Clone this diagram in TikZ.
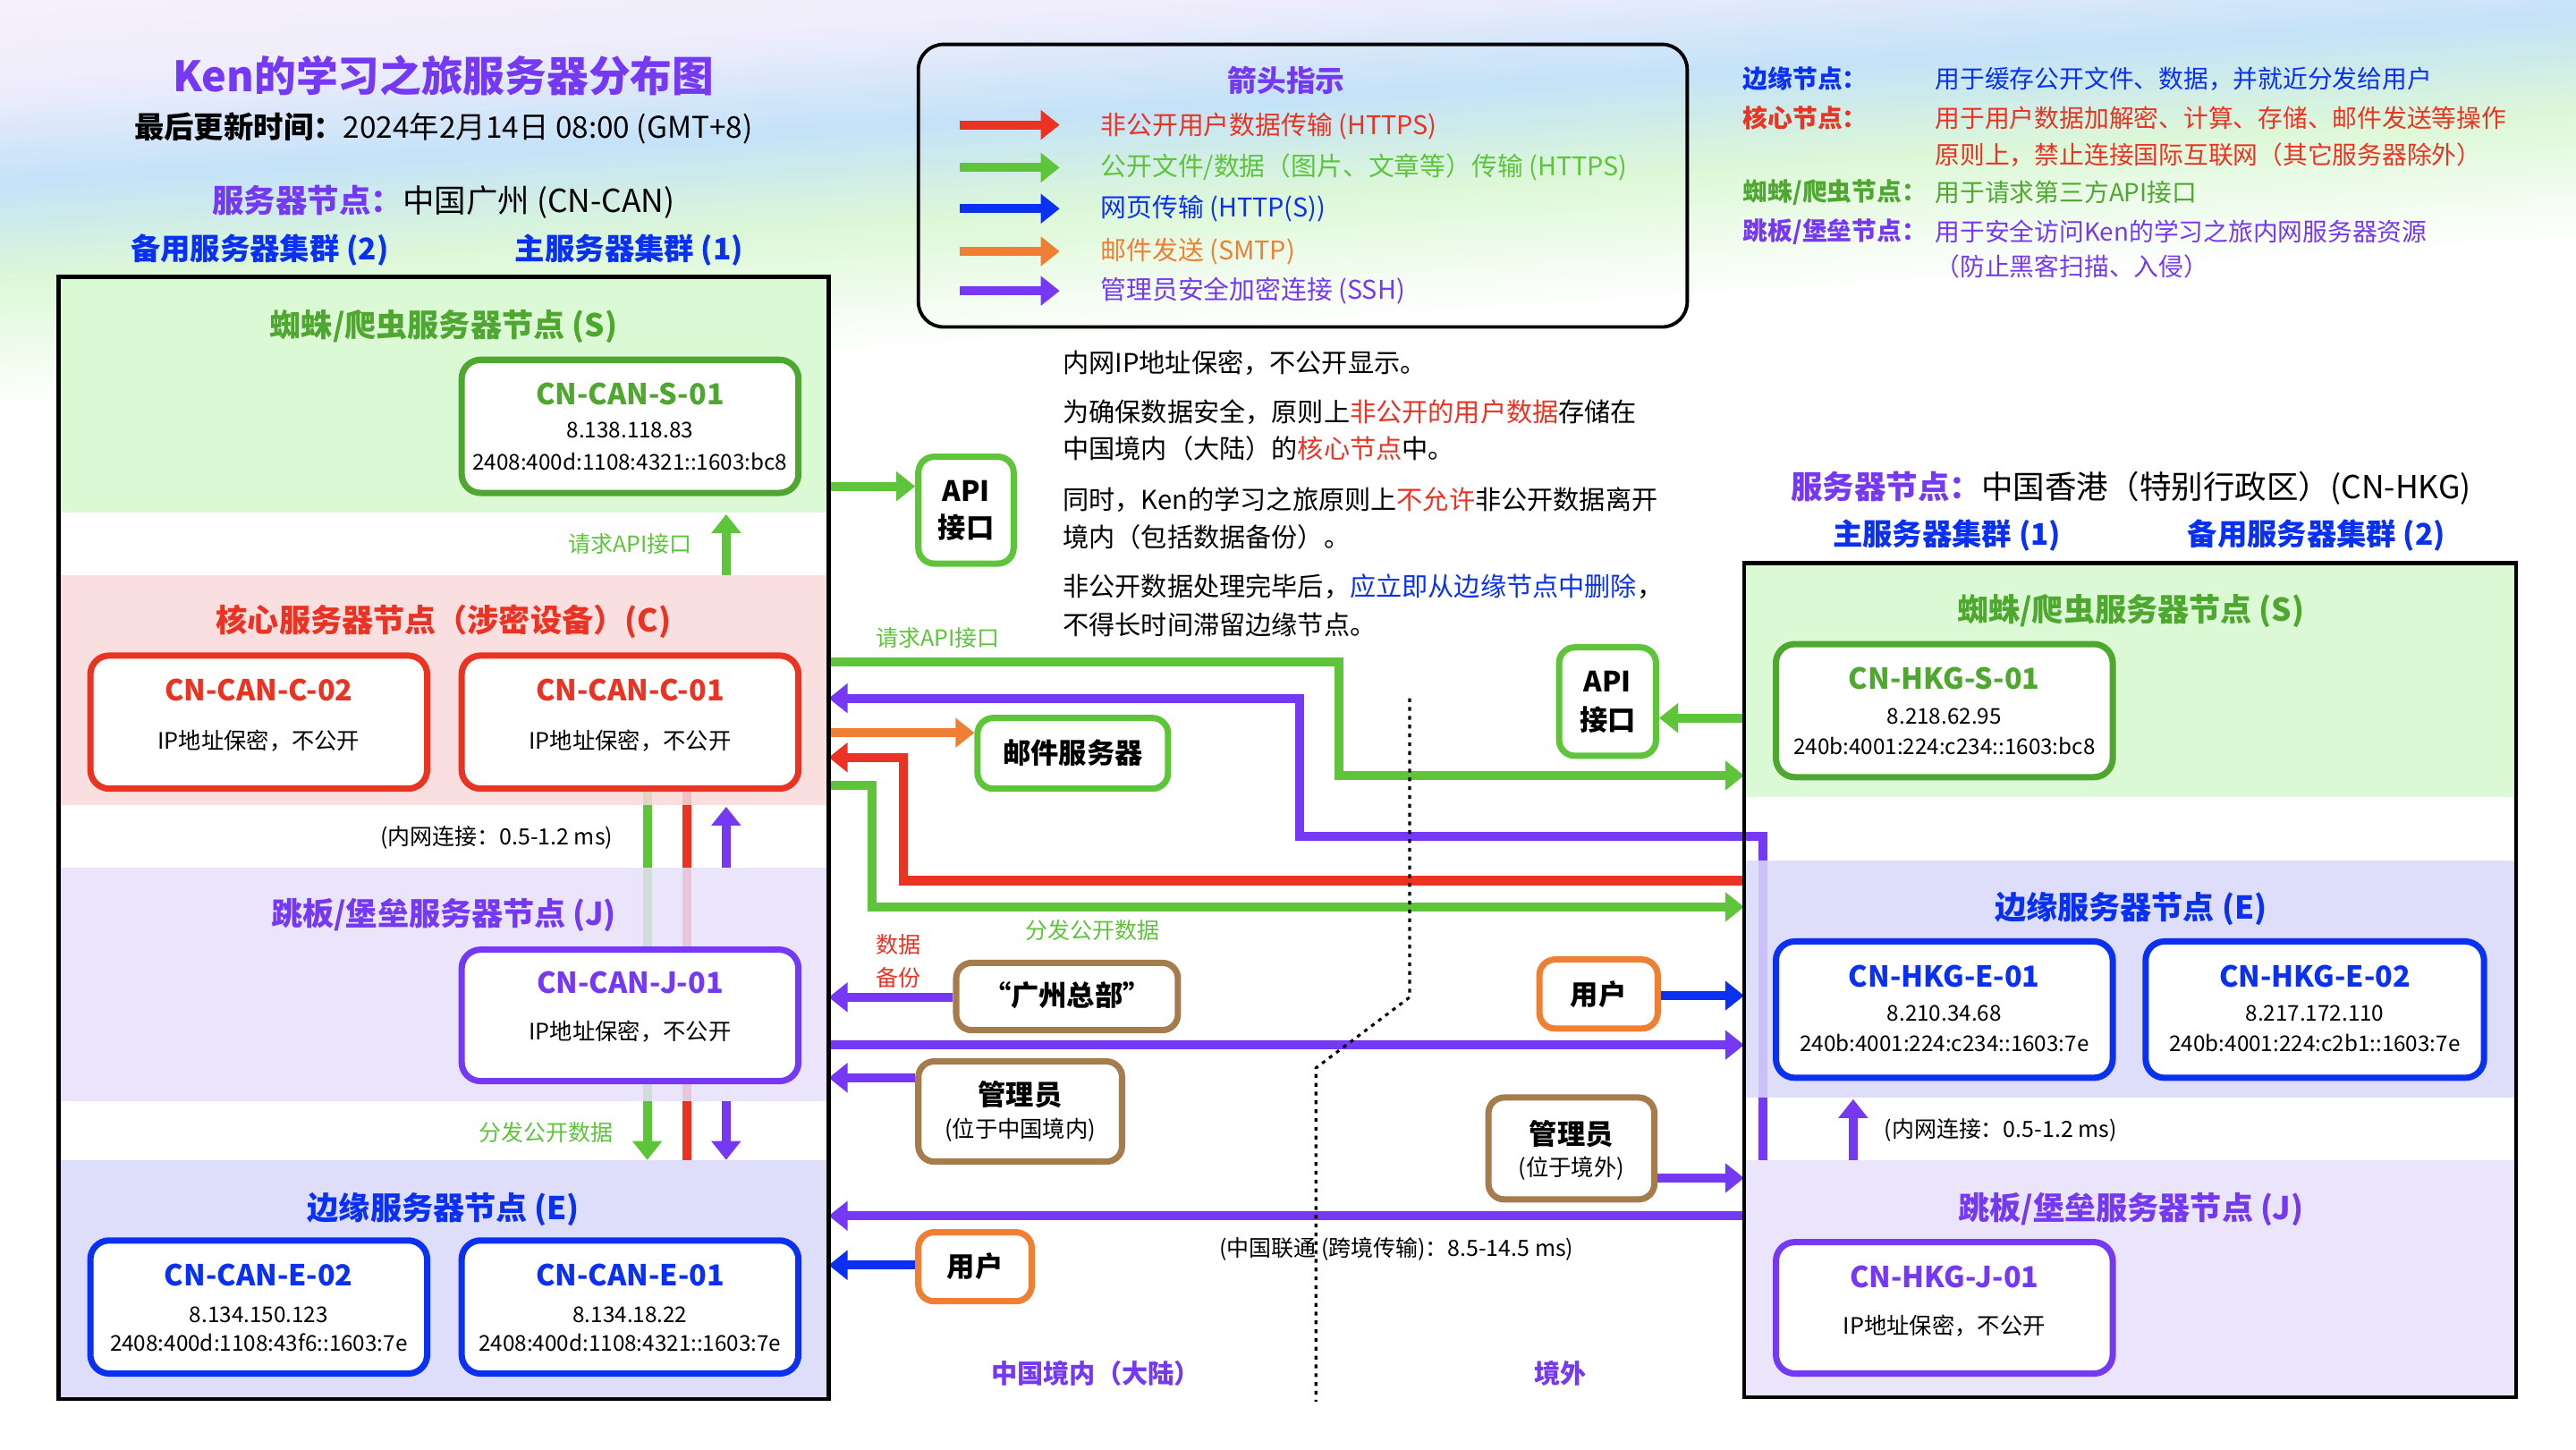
\documentclass[tikz,border=0pt]{standalone}
\usepackage{fontspec}
\setmainfont{Noto Sans CJK SC}
\usetikzlibrary{arrows.meta,fit}
\newcommand\fz[1]{\fontsize{#1}{#1}\selectfont}
\definecolor{pur}{HTML}{7539F4}
\definecolor{grn}{HTML}{5EC43A}
\definecolor{dgrn}{HTML}{4EA72E}
\definecolor{rd}{HTML}{EA3323}
\definecolor{blu}{HTML}{0A31F2}
\definecolor{org}{HTML}{EF8033}
\definecolor{brn}{HTML}{A67C4C}
\definecolor{lavA}{RGB}{244,240,252}
\definecolor{lavB}{RGB}{240,237,252}
\definecolor{bgblue}{RGB}{196,226,248}
\definecolor{bggreen}{RGB}{221,248,215}
\definecolor{bandG}{RGB}{215,248,207}
\definecolor{bandR}{RGB}{248,218,218}
\definecolor{bandJ}{RGB}{231,225,250}
\definecolor{bandE}{RGB}{217,217,251}
\newcommand\bgseg[5]{%
  \foreach \i in {1,...,#3}{%
    \pgfmathsetmacro\ua{#1+(#2-#1)*(\i-1)/#3}%
    \pgfmathsetmacro\ub{#1+(#2-#1)*\i/#3+0.6}%
    \pgfmathtruncatemacro\pp{100-100*(\i-0.5)/#3}%
    \fill[fill=#4!\pp!#5] (0,\ua) -- (1568,\ua-102) -- (1568,\ub-102) -- (0,\ub) -- cycle;
  }}
\tikzset{
  tx/.style={inner sep=0pt, outer sep=0pt, anchor=center},
  tw/.style={inner sep=0pt, outer sep=0pt, anchor=west},
  conn/.style={draw=#1, line width=2.9pt},
  arr/.style={-{Triangle[length=6pt,width=9.1pt]}},
  srv/.style={draw=#1, line width=2pt, rounded corners=6pt, fill=white, inner sep=0pt},
  mbox/.style={draw=#1, line width=2pt, rounded corners=5pt, fill=white, inner sep=0pt},
  band/.style={fill=#1, fill opacity=0.85},
  btitle/.style={tx, font=\bfseries\fz{10pt}, text=#1},
  ntitle/.style={tx, font=\bfseries\fz{9.2pt}, text=#1},
  ip/.style={tx, font=\fz{6.9pt}},
  ipx/.style={tx, font=\fz{7.2pt}},
  small/.style={tx, font=\fz{7.1pt}, text=#1},
  lbl/.style={tx, font=\bfseries\fz{8.9pt}},
}
\begin{document}
\begin{tikzpicture}[x=0.018367cm,y=-0.018367cm]
\useasboundingbox (0,0) rectangle (1568,882);
% background gradient
\fill[white] (0,0) rectangle (1568,882);
\begin{scope}
\clip (0,0) rectangle (1568,882);
\bgseg{0}{50}{5}{lavA}{lavB}
\bgseg{50}{112}{12}{lavB}{bgblue}
\bgseg{112}{172}{12}{bgblue}{bggreen}
\bgseg{172}{250}{16}{bggreen}{white}
\end{scope}

% header texts
\node[tx, font=\bfseries\fz{13.3pt}, text=pur] (title) at (270,46) {Ken的学习之旅服务器分布图};
\node[tx, font=\fz{9.5pt}] (upd) at (270,78) {\textbf{最后更新时间：}2024年2月14日 08:00 (GMT+8)};
\node[tx, font=\fz{10.1pt}] (cnloc) at (270,123) {\textcolor{pur}{\bfseries 服务器节点：}中国广州 (CN-CAN)};
\node[tx, font=\bfseries\fz{9.5pt}, text=blu] (cnbak) at (158,152) {备用服务器集群 (2)};
\node[tx, font=\bfseries\fz{9.5pt}, text=blu] (cnmain) at (383,152) {主服务器集群 (1)};

\node[tx, font=\fz{10.1pt}] (hkloc) at (1297,297) {\textcolor{pur}{\bfseries 服务器节点：}中国香港（特别行政区）(CN-HKG)};
\node[tx, font=\bfseries\fz{9.5pt}, text=blu] (hkmain) at (1185,326) {主服务器集群 (1)};
\node[tx, font=\bfseries\fz{9.5pt}, text=blu] (hkbak) at (1410,326) {备用服务器集群 (2)};

% legend
\node[fit={(559,27)(1027,199)}, inner sep=0pt, draw, line width=1.1pt, rounded corners=8pt] (legend) {};
\node[tx, font=\bfseries\fz{9.3pt}, text=pur] (legt) at (783,49) {箭头指示};
\draw[conn=rd, arr] (584,76) -- (645,76);
\draw[conn=grn, arr] (584,102) -- (645,102);
\draw[conn=blu, arr] (584,127) -- (645,127);
\draw[conn=org, arr] (584,153) -- (645,153);
\draw[conn=pur, arr] (584,177) -- (645,177);
\node[tw, font=\fz{8.2pt}, text=rd] (l1) at (670,77) {非公开用户数据传输 (HTTPS)};
\node[tw, font=\fz{8.2pt}, text=grn] (l2) at (670,102) {公开文件/数据（图片、文章等）传输 (HTTPS)};
\node[tw, font=\fz{8.2pt}, text=blu] (l3) at (670,127) {网页传输 (HTTP(S))};
\node[tw, font=\fz{8.2pt}, text=org] (l4) at (670,153) {邮件发送 (SMTP)};
\node[tw, font=\fz{8.2pt}, text=pur] (l5) at (670,177) {管理员安全加密连接 (SSH)};

% right top description
\node[tw, font=\bfseries\fz{7.9pt}, text=blu] (d1) at (1061,48) {边缘节点：};
\node[tw, font=\fz{7.9pt}, text=blu] (d1t) at (1178,48) {用于缓存公开文件、数据，并就近分发给用户};
\node[tw, font=\bfseries\fz{7.9pt}, text=rd] (d2) at (1061,72) {核心节点：};
\node[tw, font=\fz{7.9pt}, text=rd] (d2t) at (1178,72) {用于用户数据加解密、计算、存储、邮件发送等操作};
\node[tw, font=\fz{7.9pt}, text=rd] (d2u) at (1178,94) {原则上，禁止连接国际互联网（其它服务器除外）};
\node[tw, font=\bfseries\fz{7.9pt}, text=dgrn] (d3) at (1061,117) {蜘蛛/爬虫节点：};
\node[tw, font=\fz{7.9pt}, text=dgrn] (d3t) at (1178,117) {用于请求第三方API接口};
\node[tw, font=\bfseries\fz{7.9pt}, text=pur] (d4) at (1061,141) {跳板/堡垒节点：};
\node[tw, font=\fz{7.9pt}, text=pur] (d4t) at (1178,141) {用于安全访问Ken的学习之旅内网服务器资源};
\node[tw, font=\fz{7.9pt}, text=pur] (d4u) at (1178,162) {（防止黑客扫描、入侵）};

% middle paragraph
\node[tw, font=\fz{8.3pt}] (m1) at (647,221) {内网IP地址保密，不公开显示。};
\node[tw, font=\fz{8.3pt}] (m2) at (647,251) {为确保数据安全，原则上\textcolor{rd}{非公开的用户数据}存储在};
\node[tw, font=\fz{8.3pt}] (m3) at (647,273) {中国境内（大陆）的\textcolor{rd}{核心节点}中。};
\node[tw, font=\fz{8.3pt}] (m4) at (647,304) {同时，Ken的学习之旅原则上\textcolor{rd}{不允许}非公开数据离开};
\node[tw, font=\fz{8.3pt}] (m5) at (647,327) {境内（包括数据备份）。};
\node[tw, font=\fz{8.3pt}] (m6) at (647,357) {非公开数据处理完毕后，\textcolor{blu}{应立即从边缘节点中删除}，};
\node[tw, font=\fz{8.3pt}] (m7) at (647,380) {不得长时间滞留边缘节点。};

% big boxes (fill)
\node[fit={(36,169)(504,851)}, inner sep=0pt, fill=white] (cn) {};
\node[fit={(1062,343)(1531,850)}, inner sep=0pt, fill=white] (hk) {};

% lines behind bands
\draw[conn=grn, arr] (394,470) -- (394,706);
\draw[conn=rd] (418,470) -- (418,706);
\draw[conn=pur, arr] (1073,706) -- (1073,509) -- (791,509) -- (791,425) -- (cn.east |- 0,425);

% bands CN
\fill[band=bandG] (36,169) rectangle (504,312);
\fill[band=bandR] (36,350) rectangle (504,490);
\fill[band=bandJ] (36,528) rectangle (504,670);
\fill[band=bandE] (36,706) rectangle (504,851);
% bands HK
\fill[band=bandG] (1062,343) rectangle (1531,485);
\fill[band=bandE] (1062,524) rectangle (1531,668);
\fill[band=bandJ] (1062,706) rectangle (1531,850);

% band titles
\node[btitle=dgrn] (cnSt) at (270,199) {蜘蛛/爬虫服务器节点 (S)};
\node[btitle=rd] (cnCt) at (270,378) {核心服务器节点（涉密设备）(C)};
\node[btitle=pur] (cnJt) at (270,557) {跳板/堡垒服务器节点 (J)};
\node[btitle=blu] (cnEt) at (270,736) {边缘服务器节点 (E)};
\node[btitle=dgrn] (hkSt) at (1297,372) {蜘蛛/爬虫服务器节点 (S)};
\node[btitle=blu] (hkEt) at (1297,553) {边缘服务器节点 (E)};
\node[btitle=pur] (hkJt) at (1297,736) {跳板/堡垒服务器节点 (J)};

% CN server boxes
\node[srv=dgrn, fit={(281,219)(486,300)}] (cans) {};
\node[ntitle=dgrn] at (383.5,240) {CN-CAN-S-01};
\node[ip] at (383.5,262) {8.138.118.83};
\node[ip] at (383.5,281) {2408:400d:1108:4321::1603:bc8};

\node[srv=rd, fit={(55,399)(260,480)}] (canc2) {};
\node[ntitle=rd] at (157.5,420) {CN-CAN-C-02};
\node[ipx] at (157.5,451) {IP地址保密，不公开};
\node[srv=rd, fit={(281,399)(486,480)}] (canc1) {};
\node[ntitle=rd] at (383.5,420) {CN-CAN-C-01};
\node[ipx] at (383.5,451) {IP地址保密，不公开};

\node[srv=pur, fit={(281,578)(486,658)}] (canj) {};
\node[ntitle=pur] at (383.5,598) {CN-CAN-J-01};
\node[ipx] at (383.5,628) {IP地址保密，不公开};

\node[srv=blu, fit={(55,755)(260,836)}] (cane2) {};
\node[ntitle=blu] at (157.5,776) {CN-CAN-E-02};
\node[ip] at (157.5,800) {8.134.150.123};
\node[ip] at (157.5,817) {2408:400d:1108:43f6::1603:7e};
\node[srv=blu, fit={(281,755)(486,836)}] (cane1) {};
\node[ntitle=blu] at (383.5,776) {CN-CAN-E-01};
\node[ip] at (383.5,800) {8.134.18.22};
\node[ip] at (383.5,817) {2408:400d:1108:4321::1603:7e};

% HK server boxes
\node[srv=dgrn, fit={(1081,392)(1286,473)}] (hks) {};
\node[ntitle=dgrn] at (1183.5,413) {CN-HKG-S-01};
\node[ip] at (1183.5,436) {8.218.62.95};
\node[ip] at (1183.5,454) {240b:4001:224:c234::1603:bc8};

\node[srv=blu, fit={(1081,573)(1286,656)}] (hke1) {};
\node[ntitle=blu] at (1183.5,594) {CN-HKG-E-01};
\node[ip] at (1183.5,617) {8.210.34.68};
\node[ip] at (1183.5,635) {240b:4001:224:c234::1603:7e};
\node[srv=blu, fit={(1306,573)(1512,656)}] (hke2) {};
\node[ntitle=blu] at (1409,594) {CN-HKG-E-02};
\node[ip] at (1409,617) {8.217.172.110};
\node[ip] at (1409,635) {240b:4001:224:c2b1::1603:7e};

\node[srv=pur, fit={(1081,756)(1286,836)}] (hkj) {};
\node[ntitle=pur] at (1183.5,777) {CN-HKG-J-01};
\node[ipx] at (1183.5,807) {IP地址保密，不公开};

% short vertical arrows inside boxes
\draw[conn=grn, arr] (442,350) -- (442,313);
\node[small=grn, anchor=east] at (421,331) {请求API接口};
\draw[conn=pur, arr] (442,528) -- (442,491);
\node[small=black, anchor=east] at (373,510) {(内网连接：0.5-1.2 ms)};
\draw[conn=pur, arr] (442,670) -- (442,706);
\node[small=grn, anchor=east] at (373,689) {分发公开数据};
\draw[conn=pur, arr] (1128,706) -- (1128,669);
\node[small=black, anchor=west] at (1147,688) {(内网连接：0.5-1.2 ms)};

% middle boxes
\node[mbox=grn, fit={(559,278)(617,343)}] (apiA) {};
\node[lbl] at (588,299) {API};
\node[lbl] at (588,321) {接口};
\node[mbox=grn, fit={(949,394)(1008,460)}] (apiB) {};
\node[lbl] at (978.5,415) {API};
\node[lbl] at (978.5,438) {接口};
\node[mbox=grn, fit={(595,437)(711,480)}] (mail) {};
\node[lbl] at (653,458) {邮件服务器};
\node[mbox=brn, fit={(582,586)(717,627)}] (hq) {};
\node[lbl] at (649.5,606) {“广州总部”};
\node[mbox=brn, fit={(559,646)(683,707)}] (admcn) {};
\node[lbl] at (621,666) {管理员};
\node[ipx] at (621,688) {(位于中国境内)};
\node[mbox=org, fit={(937,584)(1009,626)}] (userhk) {};
\node[lbl] at (973,605) {用户};
\node[mbox=brn, fit={(906,668)(1007,730)}] (admhk) {};
\node[lbl] at (956.5,690) {管理员};
\node[ipx] at (956.5,711) {(位于境外)};
\node[mbox=org, fit={(559,750)(628,792)}] (usercn) {};
\node[lbl] at (593.5,771) {用户};

% connectors
\draw[conn=grn, arr] (cn.east |- 0,296) -- (apiA.west |- 0,296);
\draw[conn=grn, arr] (cn.east |- 0,403) -- (815,403) -- (815,472) -- (hk.west |- 0,472);
\node[small=grn] at (571,388) {请求API接口};
\draw[conn=org, arr] (cn.east |- 0,446) -- (mail.west |- 0,446);
\draw[conn=rd, arr] (hk.west |- 0,536) -- (550,536) -- (550,461) -- (cn.east |- 0,461);
\draw[conn=grn, arr] (cn.east |- 0,478) -- (531,478) -- (531,552) -- (hk.west |- 0,552);
\node[small=grn] at (665,566) {分发公开数据};
\draw[conn=grn, arr] (hk.west |- 0,437) -- (apiB.east |- 0,437);
\node[small=rd] at (547,575) {数据};
\node[small=rd] at (547,595) {备份};
\draw[conn=pur, arr] (hq.west |- 0,607) -- (cn.east |- 0,607);
\draw[conn=pur, arr] (cn.east |- 0,636) -- (hk.west |- 0,636);
\draw[conn=pur, arr] (admcn.west |- 0,656) -- (cn.east |- 0,656);
\draw[conn=blu, arr] (userhk.east |- 0,606) -- (hk.west |- 0,606);
\draw[conn=pur, arr] (admhk.east |- 0,717) -- (hk.west |- 0,717);
\draw[conn=pur, arr] (hk.west |- 0,740) -- (cn.east |- 0,740);
\draw[conn=blu, arr] (usercn.west |- 0,770) -- (cn.east |- 0,770);

\node[small=black] (lat) at (850,760) {(中国联通 (跨境传输)：8.5-14.5 ms)};
\node[tx, font=\bfseries\fz{8.3pt}, text=pur] (zone1) at (667,836) {中国境内（大陆）};
\node[tx, font=\bfseries\fz{8.3pt}, text=pur] (zone2) at (950,836) {境外};

% big box borders
\draw[line width=1.3pt] (cn.north west) rectangle (cn.south east);
\draw[line width=1.3pt] (hk.north west) rectangle (hk.south east);

% border line
\coordinate (bt) at (858,425);
\coordinate (bb) at (801,853);
\draw[line width=0.9pt, dash pattern=on 1.2pt off 1.6pt] (bt) -- (858,607) -- (801,650) -- (bb);
\end{tikzpicture}
\end{document}
